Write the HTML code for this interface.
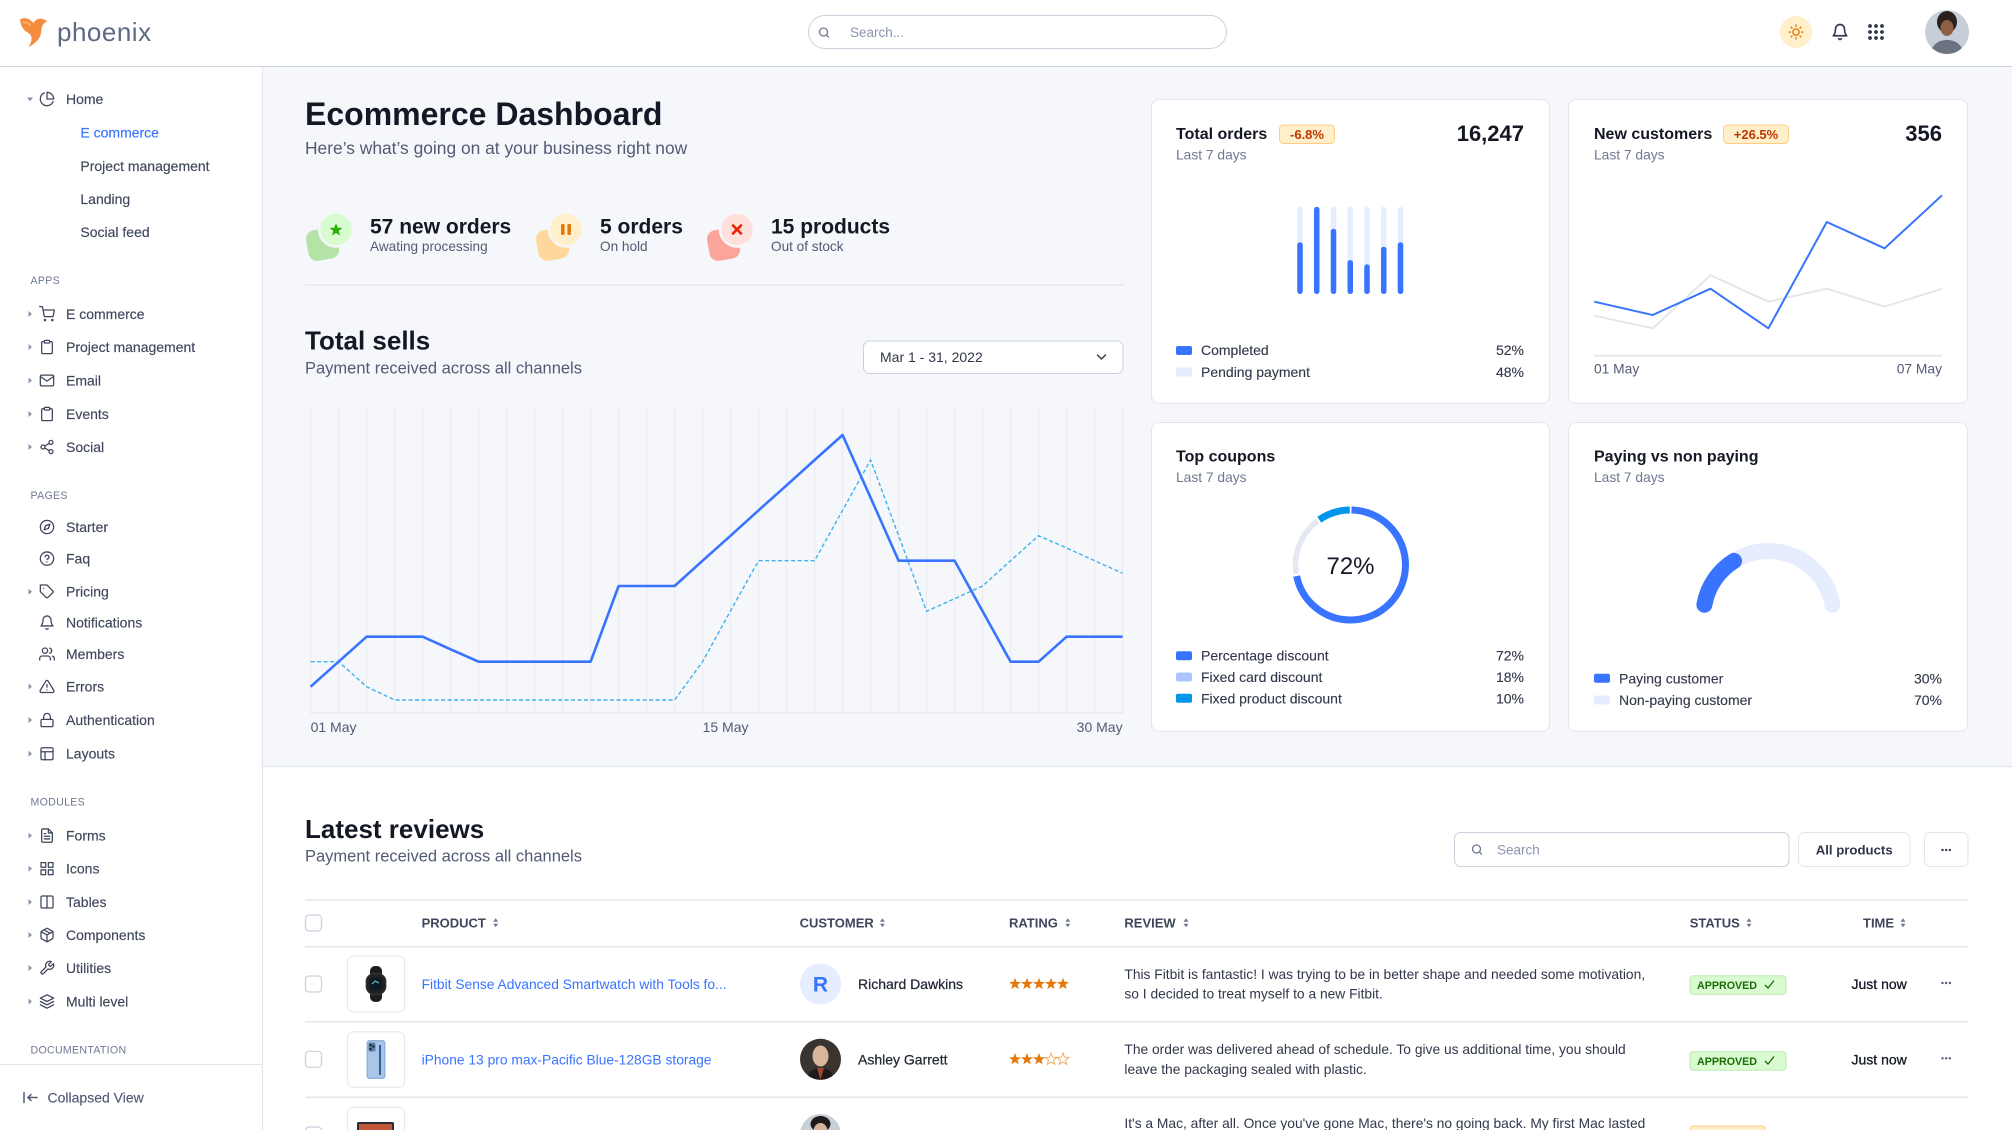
<!DOCTYPE html>
<html><head><meta charset="utf-8"><title>Ecommerce Dashboard</title>
<style>
html,body{margin:0;padding:0;width:2012px;height:1130px;overflow:hidden;background:#fff}
svg{display:block}
text{font-family:"Liberation Sans",sans-serif}
.ic{fill:none;stroke:#3e465b;stroke-width:1.9;stroke-linecap:round;stroke-linejoin:round}
.sb{font-size:14px;fill:#3e465b;stroke:#3e465b;stroke-width:0.15}
.sec{font-size:10.6px;fill:#6e7891;letter-spacing:0.3px}
.ar{fill:#8a94ad}
.lg{font-size:14px;fill:#31374a;stroke:#31374a;stroke-width:0.12}
.th{font-size:13px;font-weight:bold;fill:#3e465b}
.so{fill:#6e7891}
.rv{font-size:13.8px;fill:#31374a}
</style></head><body>
<svg width="2012" height="1130" viewBox="0 0 2012 1130" xmlns="http://www.w3.org/2000/svg">
<defs>
<path id="st" d="M0,-6.3 L1.53,-2.1 L5.99,-1.95 L2.47,0.8 L3.7,5.1 L0,2.6 L-3.7,5.1 L-2.47,0.8 L-5.99,-1.95 L-1.53,-2.1 Z"/>
<clipPath id="cav"><circle cx="1947" cy="32" r="22"/></clipPath>
<clipPath id="cav2"><circle cx="820.5" cy="1059.3" r="20.5"/></clipPath>
<clipPath id="cav3"><circle cx="820.5" cy="1134.5" r="20.5"/></clipPath>
</defs>

<!-- backgrounds -->
<rect width="2012" height="1130" fill="#fff"/>
<rect x="263" y="67" width="1749" height="699" fill="#f5f7fa"/>
<line x1="0" y1="66.5" x2="2012" y2="66.5" stroke="#cbd0dd" stroke-width="1"/>
<line x1="262.5" y1="67" x2="262.5" y2="1130" stroke="#e3e6ed" stroke-width="1.2"/>
<line x1="263" y1="766.5" x2="2012" y2="766.5" stroke="#e3e6ed" stroke-width="1.2"/>
<line x1="0" y1="1064.5" x2="262" y2="1064.5" stroke="#e3e6ed" stroke-width="1"/>

<!-- header -->
<g transform="matrix(1.3,0,0,1.05,0.5,-0.5)">
<path d="M15,19 C19,16 23,19 25.5,22.5 C27,18 31,16.5 36,20.5 C33,22.5 31.5,25.5 31.5,29 C31.5,36 27.5,41.5 21.5,45.5 C24.5,39.5 25,34.5 21,31.5 C17.5,29 15.5,25 15,19 Z" fill="#f68d3e"/>
<path d="M17,22 C20,21 22,23 23,25" stroke="#fbb47a" stroke-width="1.5" fill="none"/>
</g>
<text x="57" y="41" font-size="26" fill="#5e6985" letter-spacing="0.5">phoenix</text>

<rect x="808.5" y="15.5" width="418" height="33" rx="16.5" fill="#fff" stroke="#cbd0dd"/>
<g class="ic" style="stroke:#6e7891;stroke-width:2.6" transform="translate(818,26.5) scale(0.5)"><circle cx="11" cy="11" r="8"/><line x1="21" y1="21" x2="16.65" y2="16.65"/></g>
<text x="850" y="37" font-size="13.5" fill="#8a94ad">Search...</text>

<circle cx="1796" cy="32" r="16" fill="#ffefca"/>
<g class="ic" style="stroke:#e5780b;stroke-width:2.2" transform="translate(1788.5,24.5) scale(0.625)"><circle cx="12" cy="12" r="5"/><line x1="12" y1="1" x2="12" y2="3"/><line x1="12" y1="21" x2="12" y2="23"/><line x1="4.22" y1="4.22" x2="5.64" y2="5.64"/><line x1="18.36" y1="18.36" x2="19.78" y2="19.78"/><line x1="1" y1="12" x2="3" y2="12"/><line x1="21" y1="12" x2="23" y2="12"/><line x1="4.22" y1="19.78" x2="5.64" y2="18.36"/><line x1="18.36" y1="5.64" x2="19.78" y2="4.22"/></g>
<g class="ic" style="stroke:#31374a;stroke-width:2.2" transform="translate(1831,23) scale(0.75)"><path d="M18 8A6 6 0 0 0 6 8c0 7-3 9-3 9h18s-3-2-3-9"/><path d="M13.73 21a2 2 0 0 1-3.46 0"/></g>
<g fill="#31374a"><circle cx="1870" cy="26" r="1.9"/><circle cx="1876" cy="26" r="1.9"/><circle cx="1882" cy="26" r="1.9"/><circle cx="1870" cy="32" r="1.9"/><circle cx="1876" cy="32" r="1.9"/><circle cx="1882" cy="32" r="1.9"/><circle cx="1870" cy="38" r="1.9"/><circle cx="1876" cy="38" r="1.9"/><circle cx="1882" cy="38" r="1.9"/></g>
<g clip-path="url(#cav)">
<rect x="1925" y="10" width="44" height="44" fill="#c7ced9"/>
<ellipse cx="1947" cy="22" rx="10" ry="11" fill="#2a211d"/>
<ellipse cx="1947" cy="28" rx="6.5" ry="8" fill="#8f5f45"/>
<path d="M1930,56 C1931,45 1938,40 1947,40 C1956,40 1963,45 1964,56 Z" fill="#6b7280"/>
</g>

<!-- sidebar -->
<polygon points="27,97.5 33,97.5 30,101.5" class="ar"/>
<g class="ic" transform="translate(39,91) scale(0.6667)"><path d="M21.21 15.89A10 10 0 1 1 8 2.83"/><path d="M22 12A10 10 0 0 0 12 2v10z"/></g>
<text x="66" y="104" class="sb">Home</text>
<text x="80.4" y="137.7" class="sb" style="fill:#3874ff;stroke:#3874ff">E commerce</text>
<text x="80.4" y="171" class="sb">Project management</text>
<text x="80.4" y="204" class="sb">Landing</text>
<text x="80.4" y="237" class="sb">Social feed</text>

<text x="30.5" y="283.8" class="sec">APPS</text>
<polygon points="28.5,311 32,314 28.5,317" class="ar"/>
<g class="ic" transform="translate(39,306) scale(0.6667)"><circle cx="9" cy="21" r="1"/><circle cx="20" cy="21" r="1"/><path d="M1 1h4l2.68 13.39a2 2 0 0 0 2 1.61h9.72a2 2 0 0 0 2-1.61L23 6H6"/></g>
<text x="66" y="319" class="sb">E commerce</text>
<polygon points="28.5,344 32,347 28.5,350" class="ar"/>
<g class="ic" transform="translate(39,339) scale(0.6667)"><path d="M16 4h2a2 2 0 0 1 2 2v14a2 2 0 0 1-2 2H6a2 2 0 0 1-2-2V6a2 2 0 0 1 2-2h2"/><rect x="8" y="2" width="8" height="4" rx="1"/></g>
<text x="66" y="352" class="sb">Project management</text>
<polygon points="28.5,377.5 32,380.5 28.5,383.5" class="ar"/>
<g class="ic" transform="translate(39,372.5) scale(0.6667)"><path d="M4 4h16c1.1 0 2 .9 2 2v12c0 1.1-.9 2-2 2H4c-1.1 0-2-.9-2-2V6c0-1.1.9-2 2-2z"/><polyline points="22,6 12,13 2,6"/></g>
<text x="66" y="385.5" class="sb">Email</text>
<polygon points="28.5,411 32,414 28.5,417" class="ar"/>
<g class="ic" transform="translate(39,406) scale(0.6667)"><path d="M16 4h2a2 2 0 0 1 2 2v14a2 2 0 0 1-2 2H6a2 2 0 0 1-2-2V6a2 2 0 0 1 2-2h2"/><rect x="8" y="2" width="8" height="4" rx="1"/></g>
<text x="66" y="419" class="sb">Events</text>
<polygon points="28.5,444 32,447 28.5,450" class="ar"/>
<g class="ic" transform="translate(39,439) scale(0.6667)"><circle cx="18" cy="5" r="3"/><circle cx="6" cy="12" r="3"/><circle cx="18" cy="19" r="3"/><line x1="8.59" y1="13.51" x2="15.42" y2="17.49"/><line x1="15.41" y1="6.51" x2="8.59" y2="10.49"/></g>
<text x="66" y="452" class="sb">Social</text>

<text x="30.5" y="498.8" class="sec">PAGES</text>
<g class="ic" transform="translate(39,519) scale(0.6667)"><circle cx="12" cy="12" r="10"/><polygon points="16.24 7.76 14.12 14.12 7.76 16.24 9.88 9.88 16.24 7.76"/></g>
<text x="66" y="532" class="sb">Starter</text>
<g class="ic" transform="translate(39,550.6) scale(0.6667)"><circle cx="12" cy="12" r="10"/><path d="M9.09 9a3 3 0 0 1 5.83 1c0 2-3 3-3 3"/><line x1="12" y1="17" x2="12.01" y2="17"/></g>
<text x="66" y="563.6" class="sb">Faq</text>
<polygon points="28.5,588.7 32,591.7 28.5,594.7" class="ar"/>
<g class="ic" transform="translate(39,583.7) scale(0.6667)"><path d="M20.59 13.41l-7.17 7.170a2 2 0 0 1-2.83 0L2 12V2h10l8.59 8.59a2 2 0 0 1 0 2.82z"/><line x1="7" y1="7" x2="7.01" y2="7"/></g>
<text x="66" y="596.7" class="sb">Pricing</text>
<g class="ic" transform="translate(39,614.6) scale(0.6667)"><path d="M18 8A6 6 0 0 0 6 8c0 7-3 9-3 9h18s-3-2-3-9"/><path d="M13.73 21a2 2 0 0 1-3.46 0"/></g>
<text x="66" y="627.6" class="sb">Notifications</text>
<g class="ic" transform="translate(39,646) scale(0.6667)"><path d="M17 21v-2a4 4 0 0 0-4-4H5a4 4 0 0 0-4 4v2"/><circle cx="9" cy="7" r="4"/><path d="M23 21v-2a4 4 0 0 0-3-3.87"/><path d="M16 3.13a4 4 0 0 1 0 7.75"/></g>
<text x="66" y="659" class="sb">Members</text>
<polygon points="28.5,683.5 32,686.5 28.5,689.5" class="ar"/>
<g class="ic" transform="translate(39,678.5) scale(0.6667)"><path d="M10.29 3.86L1.82 18a2 2 0 0 0 1.71 3h16.94a2 2 0 0 0 1.71-3L13.71 3.86a2 2 0 0 0-3.42 0z"/><line x1="12" y1="9" x2="12" y2="13"/><line x1="12" y1="17" x2="12.01" y2="17"/></g>
<text x="66" y="691.5" class="sb">Errors</text>
<polygon points="28.5,717 32,720 28.5,723" class="ar"/>
<g class="ic" transform="translate(39,712) scale(0.6667)"><rect x="3" y="11" width="18" height="11" rx="2"/><path d="M7 11V7a5 5 0 0 1 10 0v4"/></g>
<text x="66" y="725" class="sb">Authentication</text>
<polygon points="28.5,750.7 32,753.7 28.5,756.7" class="ar"/>
<g class="ic" transform="translate(39,745.7) scale(0.6667)"><rect x="3" y="3" width="18" height="18" rx="2"/><line x1="3" y1="9" x2="21" y2="9"/><line x1="9" y1="21" x2="9" y2="9"/></g>
<text x="66" y="758.7" class="sb">Layouts</text>

<text x="30.5" y="805.3" class="sec">MODULES</text>
<polygon points="28.5,832.6 32,835.6 28.5,838.6" class="ar"/>
<g class="ic" transform="translate(39,827.6) scale(0.6667)"><path d="M14 2H6a2 2 0 0 0-2 2v16a2 2 0 0 0 2 2h12a2 2 0 0 0 2-2V8z"/><polyline points="14 2 14 8 20 8"/><line x1="16" y1="13" x2="8" y2="13"/><line x1="16" y1="17" x2="8" y2="17"/><polyline points="10 9 9 9 8 9"/></g>
<text x="66" y="840.6" class="sb">Forms</text>
<polygon points="28.5,865.6 32,868.6 28.5,871.6" class="ar"/>
<g class="ic" transform="translate(39,860.6) scale(0.6667)"><rect x="3" y="3" width="7" height="7"/><rect x="14" y="3" width="7" height="7"/><rect x="14" y="14" width="7" height="7"/><rect x="3" y="14" width="7" height="7"/></g>
<text x="66" y="873.6" class="sb">Icons</text>
<polygon points="28.5,899 32,902 28.5,905" class="ar"/>
<g class="ic" transform="translate(39,894) scale(0.6667)"><path d="M12 3h7a2 2 0 0 1 2 2v14a2 2 0 0 1-2 2h-7m0-18H5a2 2 0 0 0-2 2v14a2 2 0 0 0 2 2h7m0-18v18"/></g>
<text x="66" y="907" class="sb">Tables</text>
<polygon points="28.5,932 32,935 28.5,938" class="ar"/>
<g class="ic" transform="translate(39,927) scale(0.6667)"><line x1="16.5" y1="9.4" x2="7.5" y2="4.21"/><path d="M21 16V8a2 2 0 0 0-1-1.73l-7-4a2 2 0 0 0-2 0l-7 4A2 2 0 0 0 3 8v8a2 2 0 0 0 1 1.73l7 4a2 2 0 0 0 2 0l7-4A2 2 0 0 0 21 16z"/><polyline points="3.27 6.96 12 12.01 20.73 6.96"/><line x1="12" y1="22.08" x2="12" y2="12"/></g>
<text x="66" y="940" class="sb">Components</text>
<polygon points="28.5,965 32,968 28.5,971" class="ar"/>
<g class="ic" transform="translate(39,960) scale(0.6667)"><path d="M14.7 6.3a1 1 0 0 0 0 1.4l1.6 1.6a1 1 0 0 0 1.4 0l3.77-3.77a6 6 0 0 1-7.94 7.94l-6.91 6.91a2.12 2.12 0 0 1-3-3l6.91-6.910a6 6 0 0 1 7.94-7.94l-3.76 3.76z"/></g>
<text x="66" y="973" class="sb">Utilities</text>
<polygon points="28.5,998.5 32,1001.5 28.5,1004.5" class="ar"/>
<g class="ic" transform="translate(39,993.5) scale(0.6667)"><polygon points="12 2 2 7 12 12 22 7 12 2"/><polyline points="2 17 12 22 22 17"/><polyline points="2 12 12 17 22 12"/></g>
<text x="66" y="1006.5" class="sb">Multi level</text>

<text x="30.5" y="1053.4" class="sec">DOCUMENTATION</text>
<g stroke="#525b75" stroke-width="1.5" fill="none" stroke-linecap="round"><line x1="24" y1="1092.5" x2="24" y2="1102.5"/><line x1="28" y1="1097.5" x2="37" y2="1097.5"/><polyline points="31,1094.5 28,1097.5 31,1100.5"/></g>
<text x="47.5" y="1102.5" class="sb" style="fill:#525b75;stroke:#525b75">Collapsed View</text>

<!-- title -->
<text x="305" y="125" font-size="32" font-weight="bold" fill="#141824">Ecommerce Dashboard</text>
<text x="305" y="154" font-size="17.4" fill="#525b75">Here’s what’s going on at your business right now</text>

<!-- stats -->
<rect x="307" y="229" width="31" height="31" rx="9" fill="#b3e3a6" transform="rotate(-10 322 244)"/>
<circle cx="336" cy="229.5" r="17" fill="#d9fbd0" stroke="#f5f7fa" stroke-width="2.5"/>
<use href="#st" transform="translate(336,230) scale(1.1)" fill="#25b003"/>
<text x="370" y="233.3" font-size="21" font-weight="bold" fill="#141824">57 new orders</text>
<text x="370" y="251" font-size="13.6" fill="#525b75">Awating processing</text>

<rect x="537" y="229" width="31" height="31" rx="9" fill="#ffd79c" transform="rotate(-10 552 244)"/>
<circle cx="566" cy="229.5" r="17" fill="#ffefca" stroke="#f5f7fa" stroke-width="2.5"/>
<rect x="561" y="224" width="3.6" height="11" rx="1.2" fill="#e5780b"/>
<rect x="567.4" y="224" width="3.6" height="11" rx="1.2" fill="#e5780b"/>
<text x="600" y="233.3" font-size="21" font-weight="bold" fill="#141824">5 orders</text>
<text x="600" y="251" font-size="13.6" fill="#525b75">On hold</text>

<rect x="708" y="229" width="31" height="31" rx="9" fill="#fba59a" transform="rotate(-10 723 244)"/>
<circle cx="737" cy="229.5" r="17" fill="#ffe0db" stroke="#f5f7fa" stroke-width="2.5"/>
<g stroke="#ec1f00" stroke-width="2.6" stroke-linecap="round"><line x1="733" y1="225.5" x2="741" y2="233.5"/><line x1="741" y1="225.5" x2="733" y2="233.5"/></g>
<text x="771" y="233.3" font-size="21" font-weight="bold" fill="#141824">15 products</text>
<text x="771" y="251" font-size="13.6" fill="#525b75">Out of stock</text>

<line x1="305" y1="285" x2="1124" y2="285" stroke="#e3e6ed" stroke-width="1.2"/>

<!-- total sells -->
<text x="305" y="349.3" font-size="26" font-weight="bold" fill="#141824">Total sells</text>
<text x="305" y="373.5" font-size="16.5" fill="#525b75">Payment received across all channels</text>
<rect x="863.5" y="341" width="259.5" height="32.5" rx="6" fill="#fff" stroke="#cbd0dd"/>
<text x="880" y="362" font-size="14" fill="#31374a">Mar 1 - 31, 2022</text>
<polyline points="1097.5,355 1101.5,359 1105.5,355" fill="none" stroke="#31374a" stroke-width="1.4" stroke-linecap="round"/>

<path d="M310.6 409V713M338.6 409V713M366.6 409V713M394.6 409V713M422.6 409V713M450.6 409V713M478.6 409V713M506.6 409V713M534.6 409V713M562.6 409V713M590.6 409V713M618.6 409V713M646.6 409V713M674.6 409V713M702.6 409V713M730.6 409V713M758.6 409V713M786.6 409V713M814.6 409V713M842.6 409V713M870.6 409V713M898.6 409V713M926.6 409V713M954.6 409V713M982.6 409V713M1010.6 409V713M1038.6 409V713M1066.6 409V713M1094.6 409V713M1122.6 409V713" stroke="#e6e9ef" stroke-width="1"/>
<line x1="310.6" y1="713" x2="1122.6" y2="713" stroke="#e3e6ed" stroke-width="1.2"/>
<polyline fill="none" stroke="#3fb2f0" stroke-width="1.4" stroke-dasharray="4 2.5" points="310.6,661.7 338.6,661.7 366.6,686.7 394.6,700 422.6,700 450.6,700 478.6,700 506.6,700 534.6,700 562.6,700 590.6,700 618.6,700 646.6,700 674.6,700 702.6,661.7 730.6,610.7 758.6,560.7 786.6,560.7 814.6,560.7 842.6,510.3 870.6,460 898.6,535.7 926.6,611.3 954.6,598.7 982.6,586 1010.6,560.7 1038.6,535.7 1066.6,548 1094.6,560.7 1122.6,573.3"/>
<polyline fill="none" stroke="#3874ff" stroke-width="2.6" stroke-linejoin="round" points="310.6,686.7 338.6,661.7 366.6,636.7 394.6,636.7 422.6,636.7 450.6,649.3 478.6,661.7 506.6,661.7 534.6,661.7 562.6,661.7 590.6,661.7 618.6,586 646.6,586 674.6,586 702.6,560.7 730.6,535.7 758.6,510.3 786.6,485.3 814.6,460 842.6,435 870.6,497.7 898.6,560.7 926.6,560.7 954.6,560.7 982.6,611.3 1010.6,661.7 1038.6,661.7 1066.6,636.7 1094.6,636.7 1122.6,636.7"/>
<text x="310.6" y="732" font-size="14" fill="#525b75">01 May</text>
<text x="702.6" y="732" font-size="14" fill="#525b75">15 May</text>
<text x="1122.6" y="732" font-size="14" fill="#525b75" text-anchor="end">30 May</text>

<!-- card 1 -->
<rect x="1151.5" y="99.5" width="398" height="304" rx="8" fill="#fff" stroke="#e3e6ed"/>
<text x="1176" y="139" font-size="16" font-weight="bold" fill="#141824">Total orders</text>
<rect x="1279.5" y="125" width="55" height="18.5" rx="4" fill="#ffefca" stroke="#ffcc85"/>
<text x="1307" y="138.8" font-size="13" font-weight="bold" fill="#bc3803" text-anchor="middle">-6.8%</text>
<text x="1524" y="141.2" font-size="22" font-weight="bold" fill="#141824" text-anchor="end">16,247</text>
<text x="1176" y="159.5" font-size="13.8" fill="#6e7891">Last 7 days</text>
<g fill="#e5edff">
<rect x="1297.25" y="206.7" width="5.5" height="87.3" rx="2.75"/><rect x="1314" y="206.7" width="5.5" height="87.3" rx="2.75"/><rect x="1330.75" y="206.7" width="5.5" height="87.3" rx="2.75"/><rect x="1347.5" y="206.7" width="5.5" height="87.3" rx="2.75"/><rect x="1364.25" y="206.7" width="5.5" height="87.3" rx="2.75"/><rect x="1381" y="206.7" width="5.5" height="87.3" rx="2.75"/><rect x="1397.75" y="206.7" width="5.5" height="87.3" rx="2.75"/>
</g>
<g fill="#3874ff">
<rect x="1297.25" y="242.3" width="5.5" height="51.7" rx="2.75"/><rect x="1314" y="206.7" width="5.5" height="87.3" rx="2.75"/><rect x="1330.75" y="228.7" width="5.5" height="65.3" rx="2.75"/><rect x="1347.5" y="260" width="5.5" height="34" rx="2.75"/><rect x="1364.25" y="264.3" width="5.5" height="29.7" rx="2.75"/><rect x="1381" y="246.7" width="5.5" height="47.3" rx="2.75"/><rect x="1397.75" y="242.3" width="5.5" height="51.7" rx="2.75"/>
</g>
<rect x="1176" y="346" width="16" height="9" rx="2" fill="#3874ff"/>
<text x="1201" y="355" class="lg">Completed</text>
<text x="1524" y="355" class="lg" text-anchor="end">52%</text>
<rect x="1176" y="367.5" width="16" height="9" rx="2" fill="#e5edff"/>
<text x="1201" y="377" class="lg">Pending payment</text>
<text x="1524" y="377" class="lg" text-anchor="end">48%</text>

<!-- card 2 -->
<rect x="1568.5" y="99.5" width="399" height="304" rx="8" fill="#fff" stroke="#e3e6ed"/>
<text x="1594" y="139" font-size="16" font-weight="bold" fill="#141824">New customers</text>
<rect x="1723.5" y="125" width="65" height="18.5" rx="4" fill="#ffefca" stroke="#ffcc85"/>
<text x="1756" y="138.8" font-size="13" font-weight="bold" fill="#bc3803" text-anchor="middle">+26.5%</text>
<text x="1942" y="141.2" font-size="22" font-weight="bold" fill="#141824" text-anchor="end">356</text>
<text x="1594" y="159.5" font-size="13.8" fill="#6e7891">Last 7 days</text>
<polyline fill="none" stroke="#e3e6ed" stroke-width="2" points="1594.3,315.7 1652.7,328.3 1710.5,275.3 1768.4,301.7 1826.8,288.7 1884.6,306.7 1942,288.7"/>
<polyline fill="none" stroke="#3874ff" stroke-width="2" stroke-linejoin="round" points="1594.3,301.7 1652.7,315 1710.5,288.7 1768.4,328.3 1826.8,222 1884.6,248.3 1942,195.3"/>
<line x1="1594" y1="355.7" x2="1942" y2="355.7" stroke="#e3e6ed" stroke-width="2"/>
<text x="1594" y="373.5" font-size="13.8" fill="#525b75">01 May</text>
<text x="1942" y="373.5" font-size="13.8" fill="#525b75" text-anchor="end">07 May</text>

<!-- card 3 -->
<rect x="1151.5" y="422.5" width="398" height="309" rx="8" fill="#fff" stroke="#e3e6ed"/>
<text x="1176" y="461.4" font-size="16" font-weight="bold" fill="#141824">Top coupons</text>
<text x="1176" y="482" font-size="13.8" fill="#6e7891">Last 7 days</text>
<g transform="rotate(-90 1350.5 565)" fill="none">
<circle cx="1350.5" cy="565" r="55" stroke="#3874ff" stroke-width="7" stroke-dasharray="246.8 400" stroke-dashoffset="-1"/>
<circle cx="1350.5" cy="565" r="55" stroke="#e3e8f2" stroke-width="5.5" stroke-dasharray="60 400" stroke-dashoffset="-250"/>
<circle cx="1350.5" cy="565" r="55" stroke="#0097eb" stroke-width="7" stroke-dasharray="32.5 400" stroke-dashoffset="-312"/>
</g>
<text x="1350.5" y="574" font-size="24" fill="#141824" text-anchor="middle">72%</text>
<rect x="1176" y="651.2" width="16" height="9" rx="2" fill="#3874ff"/>
<text x="1201" y="660.7" class="lg">Percentage discount</text>
<text x="1524" y="660.7" class="lg" text-anchor="end">72%</text>
<rect x="1176" y="672.5" width="16" height="9" rx="2" fill="#adc5ff"/>
<text x="1201" y="682" class="lg">Fixed card discount</text>
<text x="1524" y="682" class="lg" text-anchor="end">18%</text>
<rect x="1176" y="693.8" width="16" height="9" rx="2" fill="#0097eb"/>
<text x="1201" y="703.3" class="lg">Fixed product discount</text>
<text x="1524" y="703.3" class="lg" text-anchor="end">10%</text>

<!-- card 4 -->
<rect x="1568.5" y="422.5" width="399" height="309" rx="8" fill="#fff" stroke="#e3e6ed"/>
<text x="1594" y="461.4" font-size="16" font-weight="bold" fill="#141824">Paying vs non paying</text>
<text x="1594" y="482" font-size="13.8" fill="#6e7891">Last 7 days</text>
<path d="M1704.4,604.7 A65,65 0 0 1 1832.4,604.7" fill="none" stroke="#e5edff" stroke-width="16" stroke-linecap="round"/>
<path d="M1704.4,604.7 A65,65 0 0 1 1734,560.9" fill="none" stroke="#3874ff" stroke-width="16" stroke-linecap="round"/>
<rect x="1594" y="673.8" width="16" height="9" rx="2" fill="#3874ff"/>
<text x="1619" y="683.3" class="lg">Paying customer</text>
<text x="1942" y="683.3" class="lg" text-anchor="end">30%</text>
<rect x="1594" y="695.5" width="16" height="9" rx="2" fill="#e5edff"/>
<text x="1619" y="705" class="lg">Non-paying customer</text>
<text x="1942" y="705" class="lg" text-anchor="end">70%</text>

<!-- latest reviews -->
<text x="305" y="838" font-size="26" font-weight="bold" fill="#141824">Latest reviews</text>
<text x="305" y="861.5" font-size="16.5" fill="#525b75">Payment received across all channels</text>
<rect x="1454.5" y="832.5" width="334.5" height="34" rx="6" fill="#fff" stroke="#cbd0dd"/>
<g class="ic" style="stroke:#6e7891;stroke-width:2.6" transform="translate(1471,843.5) scale(0.5)"><circle cx="11" cy="11" r="8"/><line x1="21" y1="21" x2="16.65" y2="16.65"/></g>
<text x="1497" y="854.5" font-size="13.5" fill="#8a94ad">Search</text>
<rect x="1798.5" y="832.5" width="111.5" height="34" rx="6" fill="#fff" stroke="#e3e6ed"/>
<text x="1854.2" y="854.5" font-size="13.2" font-weight="bold" fill="#31374a" text-anchor="middle">All products</text>
<rect x="1924.5" y="832.5" width="43.5" height="34" rx="6" fill="#fff" stroke="#e3e6ed"/>
<g fill="#31374a"><circle cx="1942.5" cy="850" r="1.2"/><circle cx="1946.2" cy="850" r="1.2"/><circle cx="1949.9" cy="850" r="1.2"/></g>

<g stroke="#e3e6ed" stroke-width="1.5">
<line x1="305" y1="900" x2="1968" y2="900"/>
<line x1="305" y1="946.7" x2="1968" y2="946.7"/>
<line x1="305" y1="1021.7" x2="1968" y2="1021.7"/>
<line x1="305" y1="1097.3" x2="1968" y2="1097.3"/>
</g>
<rect x="305.5" y="915" width="16" height="16" rx="3.5" fill="#fff" stroke="#cbd0dd" stroke-width="1.2"/>
<text x="421.6" y="927.4" class="th">PRODUCT</text>
<text x="799.6" y="927.4" class="th">CUSTOMER</text>
<text x="1009" y="927.4" class="th">RATING</text>
<text x="1124.4" y="927.4" class="th">REVIEW</text>
<text x="1689.7" y="927.4" class="th">STATUS</text>
<text x="1863" y="927.4" class="th">TIME</text>
<g class="so">
<polygon points="493.2,921.7 498.2,921.7 495.7,918.2"/><polygon points="493.2,923.7 498.2,923.7 495.7,927.2"/>
<polygon points="879.9,921.7 884.9,921.7 882.4,918.2"/><polygon points="879.9,923.7 884.9,923.7 882.4,927.2"/>
<polygon points="1065.3,921.7 1070.3,921.7 1067.8,918.2"/><polygon points="1065.3,923.7 1070.3,923.7 1067.8,927.2"/>
<polygon points="1183.5,921.7 1188.5,921.7 1186,918.2"/><polygon points="1183.5,923.7 1188.5,923.7 1186,927.2"/>
<polygon points="1746.5,921.7 1751.5,921.7 1749,918.2"/><polygon points="1746.5,923.7 1751.5,923.7 1749,927.2"/>
<polygon points="1900.5,921.7 1905.5,921.7 1903,918.2"/><polygon points="1900.5,923.7 1905.5,923.7 1903,927.2"/>
</g>

<!-- row 1 -->
<rect x="305.5" y="976" width="16" height="16" rx="3.5" fill="#fff" stroke="#cbd0dd" stroke-width="1.2"/>
<rect x="347.6" y="956" width="57" height="56" rx="6" fill="#fff" stroke="#e3e6ed"/>
<rect x="370" y="966" width="12" height="36" rx="5" fill="#1d1d1f"/>
<rect x="366" y="973.5" width="20" height="21" rx="8" fill="#222" stroke="#444" stroke-width="0.8"/>
<rect x="369.5" y="977" width="13" height="14" rx="5" fill="#0e1a22"/>
<path d="M372,984 l3,-3 l4,2" stroke="#6ad1e3" stroke-width="1" fill="none"/>
<text x="421.6" y="989" font-size="13.8" fill="#3874ff">Fitbit Sense Advanced Smartwatch with Tools fo...</text>
<circle cx="820.5" cy="984" r="20.5" fill="#e5edff"/>
<text x="820.5" y="991.5" font-size="21" font-weight="bold" fill="#3874ff" text-anchor="middle">R</text>
<text x="858" y="989" font-size="14" fill="#222834" stroke="#222834" stroke-width="0.25">Richard Dawkins</text>
<g fill="#e5780b"><use href="#st" x="1015" y="984"/><use href="#st" x="1027" y="984"/><use href="#st" x="1039" y="984"/><use href="#st" x="1051" y="984"/><use href="#st" x="1063" y="984"/></g>
<text x="1124.4" y="979" class="rv">This Fitbit is fantastic! I was trying to be in better shape and needed some motivation,</text>
<text x="1124.4" y="998.7" class="rv">so I decided to treat myself to a new Fitbit.</text>
<rect x="1690" y="975.7" width="96" height="18.6" rx="3" fill="#d9fbd0" stroke="#bee8b4"/>
<text x="1697" y="988.9" font-size="10.7" font-weight="bold" fill="#1c6c09">APPROVED</text>
<polyline points="1765,985 1768,988 1774,980.5" fill="none" stroke="#1c6c09" stroke-width="1.3"/>
<text x="1851.5" y="989" font-size="14" fill="#141824" stroke="#141824" stroke-width="0.3">Just now</text>
<g fill="#525b75"><circle cx="1942.5" cy="983" r="1.2"/><circle cx="1946.2" cy="983" r="1.2"/><circle cx="1949.9" cy="983" r="1.2"/></g>

<!-- row 2 -->
<rect x="305.5" y="1051.3" width="16" height="16" rx="3.5" fill="#fff" stroke="#cbd0dd" stroke-width="1.2"/>
<rect x="347.6" y="1031.7" width="57" height="55.6" rx="6" fill="#fff" stroke="#e3e6ed"/>
<rect x="366.5" y="1040" width="19" height="39" rx="3" fill="#8fb3dc"/>
<rect x="368" y="1041.5" width="16" height="36" rx="2" fill="#a9c6e6"/>
<rect x="368.5" y="1042.5" width="7" height="9" rx="2" fill="#5d7fa6"/>
<circle cx="370.5" cy="1045" r="1.3" fill="#1c2a3a"/><circle cx="373.5" cy="1046.5" r="1.3" fill="#1c2a3a"/><circle cx="370.5" cy="1049" r="1.3" fill="#1c2a3a"/>
<rect x="379" y="1045" width="2" height="30" fill="#2f5fa0"/>
<text x="421.6" y="1064.3" font-size="13.8" fill="#3874ff">iPhone 13 pro max-Pacific Blue-128GB storage</text>
<g clip-path="url(#cav2)">
<rect x="799" y="1038" width="43" height="43" fill="#3a3431"/>
<ellipse cx="820.5" cy="1056" rx="8" ry="10.5" fill="#d9b59a"/>
<path d="M806,1081 C808,1071 814,1068 820.5,1068 C827,1068 833,1071 835,1081 Z" fill="#1e1a19"/>
<path d="M817,1068 L820.5,1080 L824,1068 Z" fill="#9c4a2a"/>
</g>
<text x="858" y="1064.3" font-size="14" fill="#222834" stroke="#222834" stroke-width="0.25">Ashley Garrett</text>
<g fill="#e5780b"><use href="#st" x="1015" y="1059.3"/><use href="#st" x="1027" y="1059.3"/><use href="#st" x="1039" y="1059.3"/></g>
<g fill="none" stroke="#f3a45a" stroke-width="0.9"><use href="#st" x="1051" y="1059.3"/><use href="#st" x="1063" y="1059.3"/></g>
<text x="1124.4" y="1054" class="rv">The order was delivered ahead of schedule. To give us additional time, you should</text>
<text x="1124.4" y="1074" class="rv">leave the packaging sealed with plastic.</text>
<rect x="1690" y="1051.7" width="96" height="18.6" rx="3" fill="#d9fbd0" stroke="#bee8b4"/>
<text x="1697" y="1064.9" font-size="10.7" font-weight="bold" fill="#1c6c09">APPROVED</text>
<polyline points="1765,1061 1768,1064 1774,1056.5" fill="none" stroke="#1c6c09" stroke-width="1.3"/>
<text x="1851.5" y="1064.3" font-size="14" fill="#141824" stroke="#141824" stroke-width="0.3">Just now</text>
<g fill="#525b75"><circle cx="1942.5" cy="1058.3" r="1.2"/><circle cx="1946.2" cy="1058.3" r="1.2"/><circle cx="1949.9" cy="1058.3" r="1.2"/></g>

<!-- row 3 (partial) -->
<rect x="305.5" y="1127" width="16" height="16" rx="3.5" fill="#fff" stroke="#cbd0dd" stroke-width="1.2"/>
<rect x="347.6" y="1107.3" width="57" height="56" rx="6" fill="#fff" stroke="#e3e6ed"/>
<rect x="357" y="1122" width="37" height="12" rx="1.5" fill="#2a2d35"/>
<rect x="359" y="1124" width="33" height="10" fill="#c2573a"/>
<g clip-path="url(#cav3)">
<rect x="799" y="1113" width="43" height="43" fill="#c9cfd8"/>
<ellipse cx="820.5" cy="1124" rx="10" ry="8" fill="#1f1b1a"/>
<ellipse cx="820.5" cy="1131" rx="7" ry="8" fill="#d8b49a"/>
</g>
<text x="1124.4" y="1128" class="rv">It's a Mac, after all. Once you've gone Mac, there's no going back. My first Mac lasted</text>
<rect x="1690" y="1126" width="75" height="18.6" rx="3" fill="#ffefca" stroke="#ffcc85"/>
</svg>
</body></html>
